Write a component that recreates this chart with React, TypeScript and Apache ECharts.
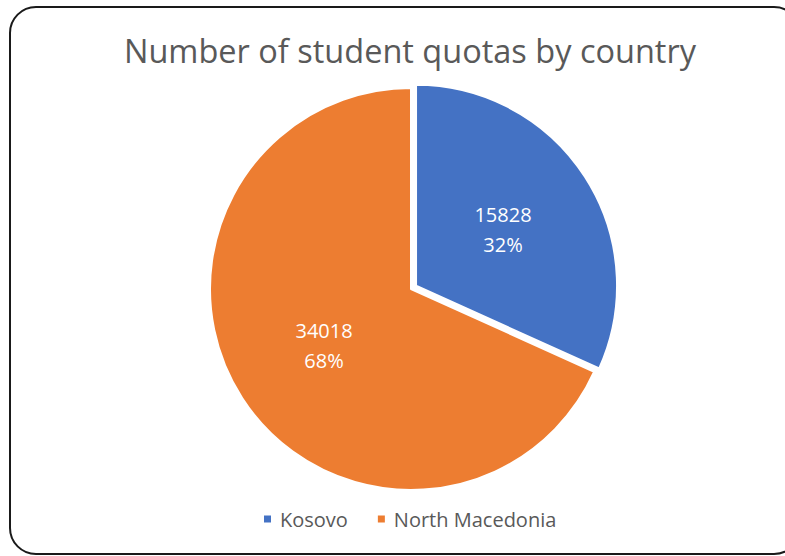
import React, { useEffect, useRef } from "react";
import * as echarts from "echarts";

const categories = ["Kosovo", "North Macedonia"];
const values = [15828, 34018];
const colors = ["#4472C4", "#ED7D31"];
const titleText = "Number of student quotas by country";

export default function App() {
  const ref = useRef<HTMLDivElement>(null);
  useEffect(() => {
    if (!ref.current) return;
    const chart = echarts.init(ref.current, undefined, { renderer: "svg" });
    const total = values.reduce((a, b) => a + b, 0);
    chart.setOption({
      animation: false,
      backgroundColor: "#ffffff",
      graphic: [
        {
          type: "rect",
          shape: { x: 10, y: 7, width: 790, height: 547, r: 26 },
          style: { fill: "none", stroke: "#1a1a1a", lineWidth: 2 },
          silent: true,
          z: 100,
        },
      ],
      title: {
        text: titleText,
        left: 405,
        textAlign: "center",
        top: 29,
        textStyle: {
          fontFamily: "Open Sans",
          fontSize: 32.5,
          fontWeight: "normal",
          color: "#595959",
        },
      },
      legend: {
        top: 504,
        left: 257,
        icon: "rect",
        itemWidth: 9,
        itemHeight: 9,
        itemGap: 28,
        data: categories,
        textStyle: {
          fontFamily: "Open Sans",
          fontSize: 20,
          color: "#595959",
          padding: [0, 0, 0, 3],
        },
      },
      series: [
        {
          type: "pie",
          center: [411, 289],
          radius: ["0%", 201],
          startAngle: 90,
          clockwise: true,
          selectedMode: "single",
          selectedOffset: 6,
          avoidLabelOverlap: false,
          itemStyle: { borderColor: "#ffffff", borderWidth: 2 },
          label: {
            show: true,
            position: "inside",
            color: "#ffffff",
            fontFamily: "Open Sans",
            fontSize: 20,
            lineHeight: 30,
            formatter: (p: any) =>
              `${p.value}\n${Math.round((p.value / total) * 100)}%`,
          },
          labelLine: { show: false },
          emphasis: { disabled: true },
          data: categories.map((name, i) => ({
            name,
            value: values[i],
            selected: i === 0,
            itemStyle: { color: colors[i] },
          })),
        },
      ],
    });
    return () => chart.dispose();
  }, []);
  return (
    <div
      ref={ref}
      style={{ position: "absolute", left: 0, top: 0, width: 785, height: 556 }}
    />
  );
}
